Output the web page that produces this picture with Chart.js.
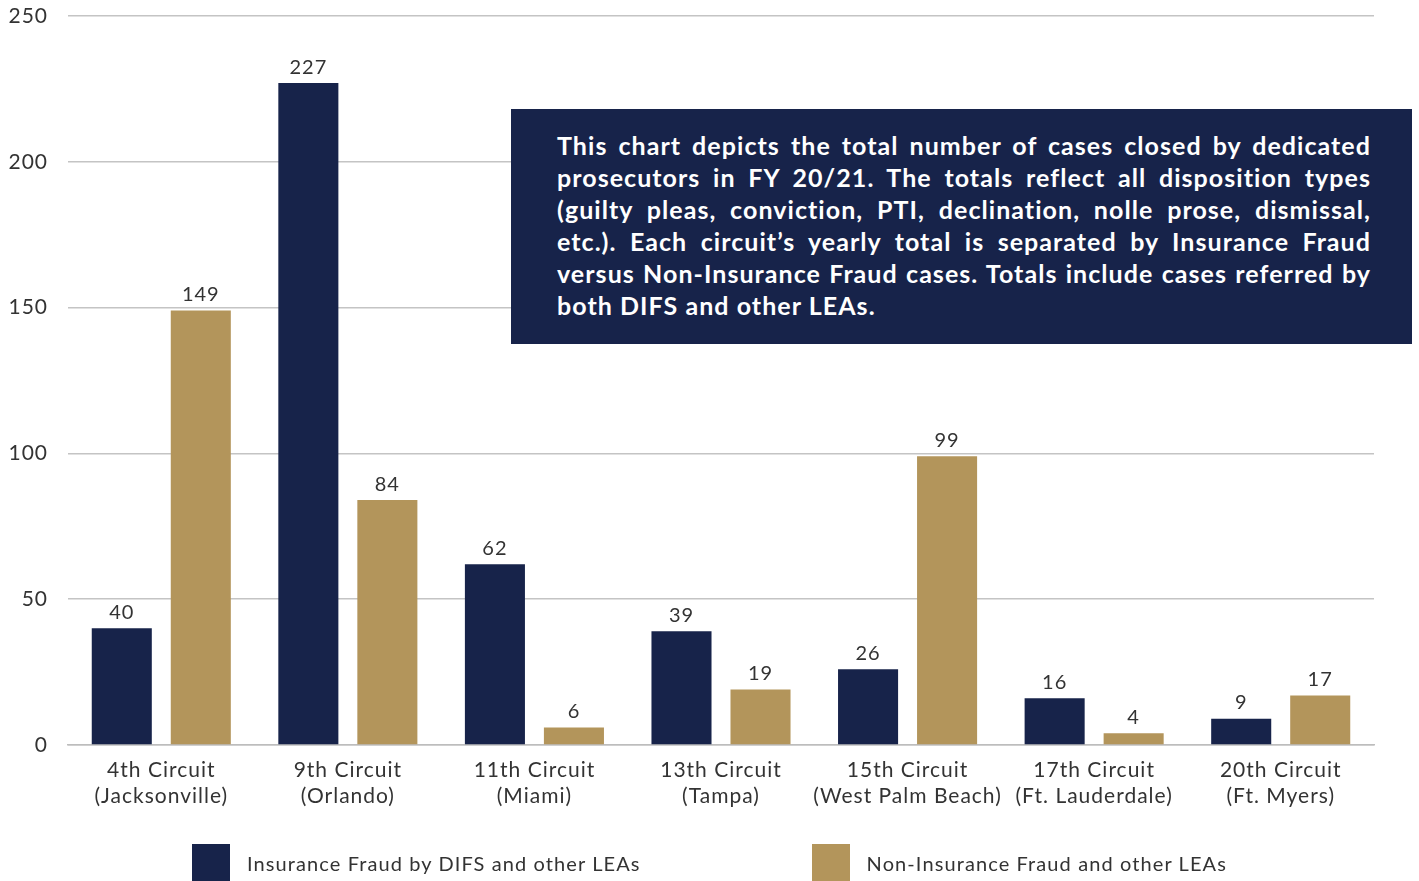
<!DOCTYPE html>
<html>
<head>
<meta charset="utf-8">
<script src="https://cdn.jsdelivr.net/npm/chart.js@4"></script>
<style>
  html, body { margin: 0; padding: 0; background: #fff; }
  #wrap { position: relative; width: 1419px; height: 881px; }
  #note {
    position: absolute; left: 511px; top: 109px; width: 901px; height: 235px;
    box-sizing: border-box; padding: 20px 41px 0 46px;
    background: #17234a; color: #fff;
    font-family: Lato, sans-serif; font-weight: 700; font-size: 25px; line-height: 32px;
    letter-spacing: 1.05px;
  }
  #note div { text-align: justify; text-align-last: justify; white-space: nowrap; }
  #note div.last { text-align-last: left; }
  #legend {
    position: absolute; left: 0; top: 844px; width: 1419px; height: 37px;
    display: flex; justify-content: center; font-family: Lato, sans-serif;
    font-size: 20px; letter-spacing: 1.1px; color: #333;
  }
  .item { display: flex; align-items: center; }
  .item + .item { margin-left: 171px; }
  .box { width: 38px; height: 37px; margin-right: 17px; }
</style>
</head>
<body>
<div id="wrap">
  <canvas id="bar_Chart" width="1419" height="881"></canvas>
  <div id="note"></div>
  <div id="legend"></div>
</div>
<script>
const circuits = [
    ["4th Circuit", "(Jacksonville)"],
    ["9th Circuit", "(Orlando)"],
    ["11th Circuit", "(Miami)"],
    ["13th Circuit", "(Tampa)"],
    ["15th Circuit", "(West Palm Beach)"],
    ["17th Circuit", "(Ft. Lauderdale)"],
    ["20th Circuit", "(Ft. Myers)"]
];
const insuranceFraud = [40, 227, 62, 39, 26, 16, 9];
const nonInsuranceFraud = [149, 84, 6, 19, 99, 4, 17];
const seriesNames = ["Insurance Fraud by DIFS and other LEAs", "Non-Insurance Fraud and other LEAs"];
const seriesColors = ["#17234a", "#b3955b"];
const noteLines = [
    "This chart depicts the total number of cases closed by dedicated",
    "prosecutors in FY 20/21. The totals reflect all disposition types",
    "(guilty pleas, conviction, PTI, declination, nolle prose, dismissal,",
    "etc.).  Each circuit\u2019s yearly total is separated by Insurance Fraud",
    "versus Non-Insurance Fraud cases.  Totals include cases referred by",
    "both DIFS and other LEAs."
];

// note box text, one div per line so the breaks stay put
let note = document.getElementById("note");
noteLines.forEach(function(t, i){
    let d = document.createElement("div");
    d.textContent = t;
    if(i == noteLines.length - 1) d.className = "last";
    note.appendChild(d);
});

// legend
let legend = document.getElementById("legend");
seriesNames.forEach(function(name, i){
    let item = document.createElement("div");
    item.className = "item";
    let box = document.createElement("div");
    box.className = "box";
    box.style.background = seriesColors[i];
    let txt = document.createElement("span");
    txt.textContent = name;
    item.appendChild(box);
    item.appendChild(txt);
    legend.appendChild(item);
});

const spacing = {
    id: "spacing",
    beforeDraw(chart){
        chart.ctx.letterSpacing = "1px";
    }
};

const valueLabels = {
    id: "valueLabels",
    afterDatasetsDraw(chart){
        let ctx = chart.ctx;
        ctx.save();
        ctx.font = "20px Lato";
        ctx.fillStyle = "#333";
        ctx.textAlign = "center";
        ctx.textBaseline = "bottom";
        chart.data.datasets.forEach(function(ds, i){
            let meta = chart.getDatasetMeta(i);
            meta.data.forEach(function(bar, j){
                ctx.fillText(ds.data[j], bar.x, bar.y - 6);
            });
        });
        ctx.restore();
    }
};

const chart = new Chart("bar_Chart", {
    type: "bar",
    data: {
        labels: circuits,
        datasets: [
            { label: seriesNames[0], data: insuranceFraud, backgroundColor: seriesColors[0] },
            { label: seriesNames[1], data: nonInsuranceFraud, backgroundColor: seriesColors[1] }
        ]
    },
    options: {
        responsive: false,
        animation: false,
        categoryPercentage: 0.847,
        barPercentage: 0.76,
        layout: { autoPadding: false, padding: { left: 0, right: 45, top: 16, bottom: 0 } },
        plugins: { legend: { display: false }, tooltip: { enabled: false } },
        scales: {
            x: {
                grid: { display: false },
                border: { color: "#bdbdbd", width: 1.5 },
                ticks: {
                    color: "#333",
                    font: { family: "Lato", size: 21, lineHeight: 1.25 },
                    padding: 4,
                    maxRotation: 0,
                    autoSkip: false
                },
                afterFit(scale){ scale.height = 136; }
            },
            y: {
                min: 0,
                max: 250,
                grid: { color: "#c4c4c4", lineWidth: 1.5, drawTicks: true, tickLength: 20, tickColor: "rgba(0,0,0,0)" },
                border: { display: false },
                ticks: {
                    stepSize: 50,
                    color: "#333",
                    font: { family: "Lato", size: 21 },
                    padding: 0
                },
                afterFit(scale){ scale.width = 68; }
            }
        }
    },
    plugins: [spacing, valueLabels]
});
</script>
</body>
</html>
